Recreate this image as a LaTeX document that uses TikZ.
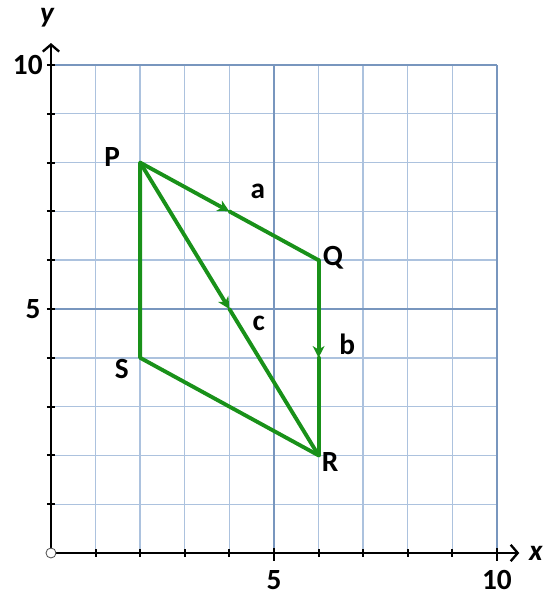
\documentclass[tikz,border=0pt]{standalone}
\usepackage{fontspec}
\setmainfont{Carlito}
\usetikzlibrary{arrows.meta}
\definecolor{vecgreen}{RGB}{25,145,25}
\definecolor{gridblue}{RGB}{172,194,222}
\definecolor{gridmajor}{RGB}{120,150,190}

\begin{document}
\begin{tikzpicture}[x=1.338cm, y=1.464cm,
	lbl/.style={font=\fontsize{25}{29}\selectfont\bfseries, inner sep=0pt},
	axlbl/.style={lbl, font=\fontsize{25}{29}\selectfont\bfseries\itshape},
	axis/.style={line width=2pt, -{Straight Barb[length=6pt,width=14pt,line width=2pt]}},
	vec/.style={draw=vecgreen, line width=3.3pt, line cap=round, line join=round},
	midtip/.style={vec, -{Stealth[length=10pt,width=10pt,inset=3pt]}}]
		\useasboundingbox (-1.143,-0.963) rectangle (11.278,11.332);
		% grid
		\foreach \i in {1,...,10} {
			\draw[gridblue, line width=1.2pt] (\i,0) -- (\i,10);
			\draw[gridblue, line width=1.2pt] (0,\i) -- (10,\i);
		}
		\draw[gridmajor, line width=1.8pt] (5,0) -- (5,10);
		\draw[gridmajor, line width=1.8pt] (10,0) -- (10,10);
		\draw[gridmajor, line width=1.8pt] (0,5) -- (10,5);
		\draw[gridmajor, line width=1.8pt] (0,10) -- (10,10);
		% axes
		\coordinate (O) at (0,0);
		\coordinate (xend) at (10.5,0);
		\coordinate (yend) at (0,10.45);
		\draw[axis] (O) -- (xend);
		\draw[axis] (O) -- (yend);
		\foreach \i in {1,...,10} {
			\draw[line width=1.6pt] (\i,-0.08) -- (\i,0.08);
			\draw[line width=1.6pt] (-0.09,\i) -- (0.09,\i);
		}
		\draw[line width=1.6pt] (5,-0.16) -- (5,0.1);
		\draw[line width=1.6pt] (10,-0.16) -- (10,0.1);
		\draw[line width=0.7pt, draw=black!70, fill=white] (O) circle[radius=0.15cm];
		\node[lbl] (x5) at (5,-0.55) {5};
		\node[lbl] (x10) at (10,-0.55) {10};
		\node[lbl] (y5) at (-0.40,5) {5};
		\node[lbl] (y10) at (-0.52,10) {10};
		\node[axlbl] (xlab) at (10.87,0) {x};
		\node[axlbl] (ylab) at (-0.09,10.96) {y};
		% vertices
		\coordinate (P) at (2,8);
		\coordinate (Q) at (6,6);
		\coordinate (R) at (6,2);
		\coordinate (S) at (2,4);
		\coordinate (mPQ) at (4,7);
		\coordinate (mPR) at (4,5);
		\coordinate (mQR) at (6,4);
		\draw[vec] (P) -- (S) -- (R);
		\draw[midtip] (P) -- (mPQ);
		\draw[vec] (mPQ) -- (Q);
		\draw[midtip] (Q) -- (mQR);
		\draw[vec] (mQR) -- (R);
		\draw[midtip] (P) -- (mPR);
		\draw[vec] (mPR) -- (R);
		% labels
		\node[lbl] (Plab) at (1.37,8.12) {P};
		\node[lbl] (Qlab) at (6.32,6.05) {Q};
		\node[lbl] (Rlab) at (6.26,1.86) {R};
		\node[lbl] (Slab) at (1.59,3.77) {S};
		\node[lbl] (alab) at (4.64,7.42) {a};
		\node[lbl] (blab) at (6.64,4.28) {b};
		\node[lbl] (clab) at (4.66,4.71) {c};
	\end{tikzpicture}
\end{document}
